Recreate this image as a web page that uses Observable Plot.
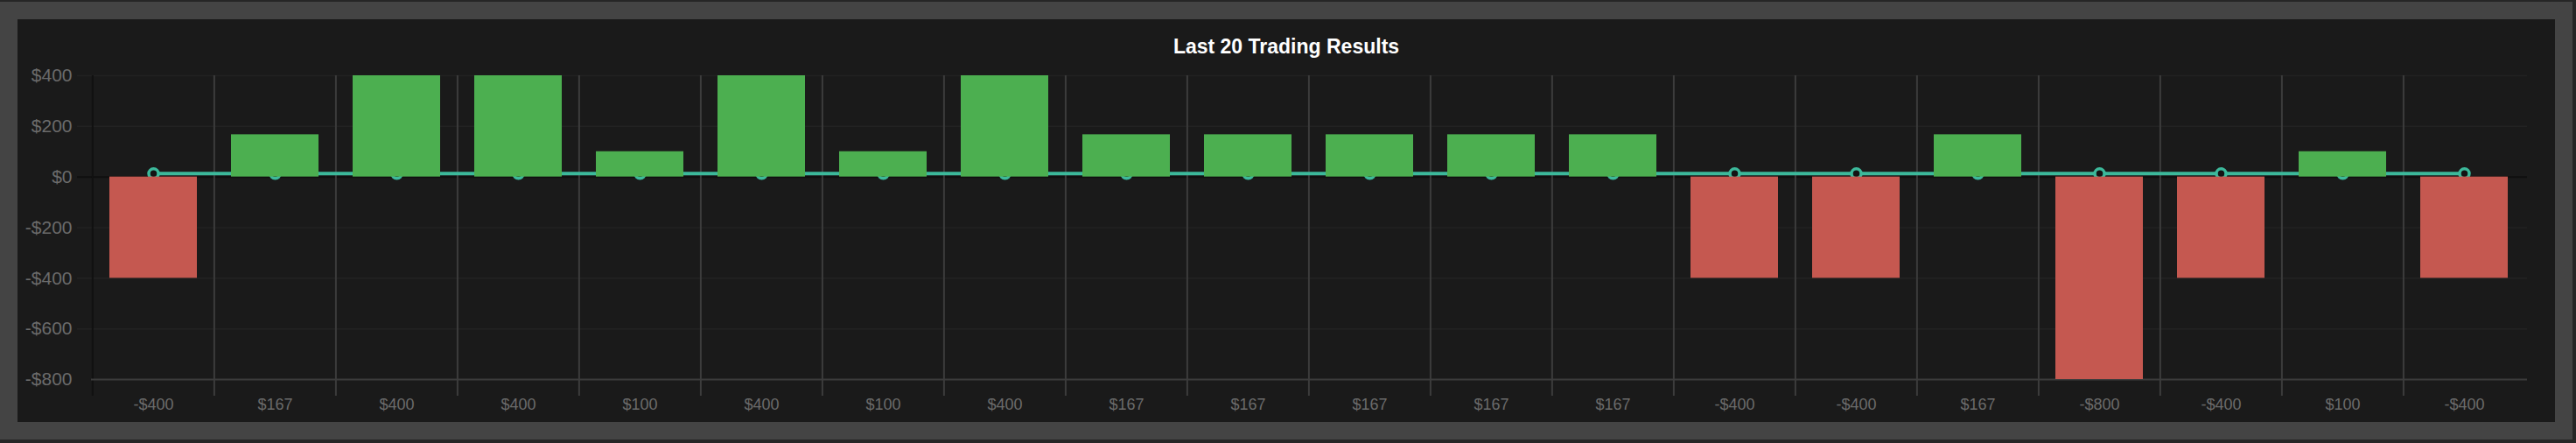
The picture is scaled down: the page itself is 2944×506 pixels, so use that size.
<!DOCTYPE html>
<html>
<head>
<meta charset="utf-8">
<script src="https://cdn.jsdelivr.net/npm/d3@7"></script>
<script src="https://cdn.jsdelivr.net/npm/@observablehq/plot@0.6"></script>
<style>
  html, body { margin: 0; padding: 0; background: #262626; }
  #frame { position: absolute; left: 0; top: 2px; width: 2940px; height: 500px; background: #444444; }
  #panel { position: absolute; left: 20px; top: 20px; width: 2900px; height: 460px; background: #1a1a1a; }
  #title { position: absolute; left: 0; top: 20px; width: 100%; text-align: center;
           font: bold 23px "Liberation Sans", Arial, sans-serif; line-height: 23px; color: #ffffff; }
  #chart { position: absolute; left: 0; top: 50px; }
</style>
</head>
<body>
<div id="frame">
  <div id="panel">
    <div id="title">Last 20 Trading Results</div>
    <div id="chart"></div>
  </div>
</div>
<script>
// ---- data ----
const tradeIds = ["1","2","3","4","5","6","7","8","9","10","11","12","13","14","15","16","17","18","19","20"];
const tradeResults = [-400, 167, 400, 400, 100, 400, 100, 400, 167, 167, 167, 167, 167, -400, -400, 167, -800, -400, 100, -400];
const tickLabels = ["-$400","$167","$400","$400","$100","$400","$100","$400","$167","$167","$167","$167","$167","-$400","-$400","$167","-$800","-$400","$100","-$400"];
const averageLine = [13.45, 13.45, 13.45, 13.45, 13.45, 13.45, 13.45, 13.45, 13.45, 13.45, 13.45, 13.45, 13.45, 13.45, 13.45, 13.45, 13.45, 13.45, 13.45, 13.45];
const yTicks = [-800, -600, -400, -200, 0, 200, 400];
const yGrid = [-600, -400, -200, 200, 400];

const data = tradeIds.map((id, i) => ({id, value: tradeResults[i], label: tickLabels[i], avg: averageLine[i]}));
const labelOf = Object.fromEntries(data.map(d => [d.id, d.label]));

const W = 2900, H = 410, ML = 84, MR = 32, MT = 14, MB = 49;
const step = (W - ML - MR) / tradeIds.length;
const money = d => (d < 0 ? "-" : "") + "$" + Math.abs(d);

const chart = Plot.plot({
  width: W, height: H,
  marginLeft: ML, marginRight: MR, marginTop: MT, marginBottom: MB,
  style: {background: "transparent", fontFamily: "'Liberation Sans', Arial, sans-serif", color: "#6b6b6b", overflow: "visible"},
  x: {type: "band", domain: tradeIds, paddingInner: 0.28, paddingOuter: 0.14, label: null},
  y: {domain: [-800, 400], label: null},
  marks: [
    // horizontal grid
    Plot.ruleY(yGrid, {y: d => d, stroke: "#222222", strokeWidth: 1.5, insetLeft: -16}),
    Plot.ruleY([0], {y: d => d, stroke: "#0f0f0f", strokeWidth: 2, insetLeft: -16}),
    // vertical category separators
    Plot.ruleX(tradeIds.slice(1), {x: d => d, dx: -step / 2, stroke: "#3c3c3c", strokeWidth: 2, insetBottom: -19}),
    Plot.ruleX(tradeIds.slice(0, 1), {x: d => d, dx: -step / 2, stroke: "#111111", strokeWidth: 2, insetBottom: -19}),
    // bottom axis line
    Plot.ruleY([-800], {y: d => d, stroke: "#3c3c3c", strokeWidth: 2}),
    // average line + dots (behind bars)
    Plot.lineY(data, {x: "id", y: "avg", stroke: "#3cb99b", strokeWidth: 4}),
    Plot.dot(data, {x: "id", y: "avg", r: 5.5, stroke: "#3cb99b", strokeWidth: 3.5, fill: "#141414"}),
    // bars
    Plot.barY(data, {filter: d => d.value >= 0, x: "id", y: "value", fill: "#4caf50"}),
    Plot.barY(data, {filter: d => d.value < 0, x: "id", y: "value", fill: "#c55850"}),
    // axes
    Plot.axisY({ticks: yTicks, tickFormat: money, tickSize: 0, tickPadding: 22, fontSize: 21, fill: "#6b6b6b", label: null}),
    Plot.axisX({tickFormat: d => labelOf[d], tickSize: 0, tickPadding: 22, fontSize: 18, fill: "#6b6b6b", label: null})
  ]
});
document.getElementById("chart").appendChild(chart);
</script>
</body>
</html>
